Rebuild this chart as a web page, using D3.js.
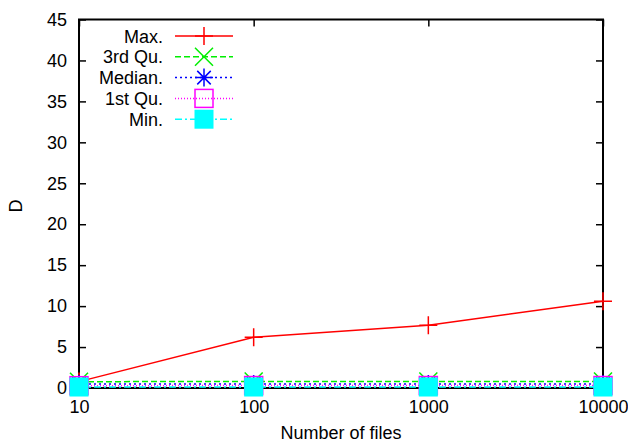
<!DOCTYPE html>
<html>
<head>
<meta charset="utf-8">
<script src="https://cdn.jsdelivr.net/npm/d3@7"></script>
<style>
  body { margin: 0; background: #fff; }
  text { font-family: "Liberation Sans", Arial, sans-serif; font-size: 18px; fill: #000; }
</style>
</head>
<body>
<script>
// chart data
var files = [10, 100, 1000, 10000];
var maxV = [0.78, 6.2, 7.65, 10.6];
var q3V = [0.77, 0.8, 0.8, 0.8];
var medV = [0.48, 0.5, 0.5, 0.5];
var q1V = [0.28, 0.3, 0.3, 0.3];
var minV = [0.12, 0.12, 0.12, 0.12];
var seriesNames = ["Max.", "3rd Qu.", "Median.", "1st Qu.", "Min."];
var yTicks = [0, 5, 10, 15, 20, 25, 30, 35, 40, 45];

var svgWidth = 628;
var svgHeight = 442;

var svg = d3.select("body")
    .append("svg")
    .attr("width", svgWidth)
    .attr("height", svgHeight);

var xScale = d3.scaleLog()
    .domain([10, 10000])
    .range([79, 603]);

var yScale = d3.scaleLinear()
    .domain([0, 45])
    .range([388, 19.5]);

// series styles
var series = [
    { name: seriesNames[0], values: maxV, color: "#ff0000", dash: null, marker: "plus" },
    { name: seriesNames[1], values: q3V, color: "#00ee00", dash: "6,3", marker: "cross" },
    { name: seriesNames[2], values: medV, color: "#0000ff", dash: "2,3", marker: "star" },
    { name: seriesNames[3], values: q1V, color: "#ff00ff", dash: "1,2", marker: "box" },
    { name: seriesNames[4], values: minV, color: "#00ffff", dash: "7,3,2,3", marker: "fbox" }
];

// axes, ticks pointing inward on every side
var fmt = d3.format("d");
svg.append("g")
    .attr("transform", "translate(79,0)")
    .call(d3.axisLeft(yScale).tickValues(yTicks).tickSize(-7).tickPadding(12).tickFormat(fmt));
svg.append("g")
    .attr("transform", "translate(603,0)")
    .call(d3.axisRight(yScale).tickValues(yTicks).tickSize(-7).tickFormat(""));
svg.append("g")
    .attr("transform", "translate(0,388)")
    .call(d3.axisBottom(xScale).tickValues(files).tickSize(-7).tickPadding(12).tickFormat(fmt));
svg.append("g")
    .attr("transform", "translate(0,19.5)")
    .call(d3.axisTop(xScale).tickValues(files).tickSize(-7).tickFormat(""));

svg.selectAll(".domain").remove();
svg.selectAll(".tick line").attr("stroke", "#000").attr("stroke-width", 1.5);
svg.selectAll(".tick text").style("font-size", "18px").attr("fill", "#000");

// frame
svg.append("rect")
    .attr("x", 79)
    .attr("y", 19.5)
    .attr("width", 603 - 79)
    .attr("height", 388 - 19.5)
    .attr("fill", "none")
    .attr("stroke", "#000")
    .attr("stroke-width", 2);

// axis titles
svg.append("text")
    .attr("transform", "translate(22,206) rotate(-90)")
    .attr("text-anchor", "middle")
    .text("D");
svg.append("text")
    .attr("x", 341)
    .attr("y", 439)
    .attr("text-anchor", "middle")
    .text("Number of files");

function drawMarker(g, type, cx, cy, color) {
    var s = 9;
    if (type === "plus") {
        g.append("path")
            .attr("d", `M${cx - s},${cy}H${cx + s}M${cx},${cy - s}V${cy + s}`)
            .attr("stroke", color).attr("stroke-width", 1.5).attr("fill", "none");
    } else if (type === "cross") {
        g.append("path")
            .attr("d", `M${cx - s},${cy - s}L${cx + s},${cy + s}M${cx - s},${cy + s}L${cx + s},${cy - s}`)
            .attr("stroke", color).attr("stroke-width", 1.5).attr("fill", "none");
    } else if (type === "star") {
        g.append("path")
            .attr("d", `M${cx - s},${cy}H${cx + s}M${cx},${cy - s}V${cy + s}M${cx - s * 0.75},${cy - s * 0.75}L${cx + s * 0.75},${cy + s * 0.75}M${cx - s * 0.75},${cy + s * 0.75}L${cx + s * 0.75},${cy - s * 0.75}`)
            .attr("stroke", color).attr("stroke-width", 1.5).attr("fill", "none");
    } else if (type === "box") {
        g.append("rect")
            .attr("x", cx - s).attr("y", cy - s).attr("width", 2 * s).attr("height", 2 * s)
            .attr("stroke", color).attr("stroke-width", 1.5).attr("fill", "none");
    } else if (type === "fbox") {
        g.append("rect")
            .attr("x", cx - s - 0.5).attr("y", cy - s - 0.5).attr("width", 2 * s + 1).attr("height", 2 * s + 1)
            .attr("fill", color);
    }
}

var line = d3.line()
    .x(function(d, i) { return xScale(files[i]); })
    .y(function(d) { return yScale(d); });

series.forEach(function(s) {
    var g = svg.append("g");
    g.append("path")
        .attr("d", line(s.values))
        .attr("fill", "none")
        .attr("stroke", s.color)
        .attr("stroke-width", 1.5)
        .attr("stroke-dasharray", s.dash);
    s.values.forEach(function(v, i) {
        drawMarker(g, s.marker, xScale(files[i]), yScale(v), s.color);
    });
});

// legend
series.forEach(function(s, i) {
    var ly = 36 + i * 20.8;
    var g = svg.append("g");
    g.append("text")
        .attr("x", 163)
        .attr("y", ly + 6.5)
        .attr("text-anchor", "end")
        .text(s.name);
    g.append("line")
        .attr("x1", 175).attr("x2", 233)
        .attr("y1", ly).attr("y2", ly)
        .attr("stroke", s.color)
        .attr("stroke-width", 1.5)
        .attr("stroke-dasharray", s.dash);
    drawMarker(g, s.marker, 204, ly, s.color);
});
</script>
</body>
</html>
